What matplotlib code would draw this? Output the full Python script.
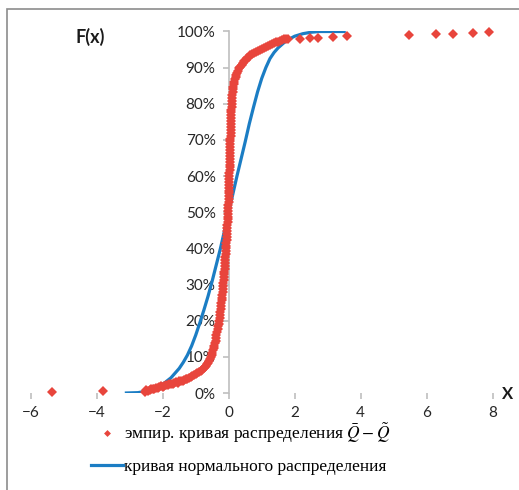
import matplotlib
matplotlib.use('Agg')
import matplotlib.pyplot as plt
from matplotlib.lines import Line2D
from matplotlib.patches import Rectangle
import matplotlib.ticker as mticker

emp_x = [-5.35, -3.82,
         -2.55, -2.50, -2.45, -2.40, -2.35, -2.30, -2.25, -2.20, -2.15, -2.10,
         -2.05, -2.00, -1.95, -1.90, -1.85, -1.80, -1.75, -1.70, -1.65, -1.60,
         -1.55, -1.50, -1.45, -1.40, -1.35, -1.30, -1.25, -1.20, -1.15, -1.10,
         -1.05, -1.00, -0.95, -0.90, -0.85, -0.80, -0.76, -0.72, -0.68, -0.65,
         -0.62, -0.59, -0.56, -0.54, -0.52, -0.50, -0.48, -0.46, -0.44, -0.42,
         -0.40, -0.38, -0.37, -0.35, -0.33, -0.32, -0.30, -0.29, -0.27, -0.26,
         -0.25, -0.24, -0.23, -0.22, -0.21, -0.20, -0.19, -0.18, -0.17, -0.17,
         -0.16, -0.15, -0.14, -0.14, -0.13, -0.12, -0.12, -0.11, -0.10, -0.10,
         -0.09, -0.09, -0.08, -0.07, -0.07, -0.06, -0.06, -0.05, -0.05, -0.04,
         -0.04, -0.03, -0.03, -0.02, -0.02, -0.01, -0.01, -0.01, 0.00, 0.00,
         0.00, 0.01, 0.01, 0.01, 0.01, 0.02, 0.02, 0.02, 0.02, 0.03,
         0.03, 0.03, 0.03, 0.04, 0.04, 0.04, 0.04, 0.05, 0.05, 0.05,
         0.05, 0.06, 0.06, 0.06, 0.06, 0.07, 0.07, 0.07, 0.08, 0.08,
         0.08, 0.09, 0.09, 0.10, 0.10, 0.11, 0.12, 0.13, 0.14, 0.15,
         0.17, 0.19, 0.21, 0.23, 0.26, 0.29, 0.32, 0.35, 0.39, 0.43,
         0.47, 0.51, 0.56, 0.61, 0.66, 0.71, 0.77, 0.83, 0.89, 0.95,
         1.01, 1.07, 1.13, 1.19, 1.25, 1.31, 1.37, 1.43, 1.49, 1.55,
         1.61, 1.67, 1.73, 1.79,
         2.15, 2.45, 2.72, 3.15, 3.58,
         5.45, 6.28, 6.80, 7.40, 7.90]
emp_f = [0.3, 0.6,
         0.4, 0.7, 0.6, 0.9, 1.0, 1.2, 1.1, 1.4, 1.5, 1.6,
         1.8, 1.7, 2.0, 2.2, 2.1, 2.4, 2.6, 2.5, 2.8, 3.0,
         2.9, 3.2, 3.4, 3.3, 3.6, 3.8, 3.9, 4.2, 4.4, 4.6,
         4.9, 5.2, 5.4, 5.8, 6.1, 6.5, 6.8, 7.2, 7.5, 7.9,
         8.3, 8.8, 9.3, 9.9, 10.5, 11.1, 11.8, 12.4, 13.1, 13.8,
         14.5, 15.3, 16.0, 16.8, 17.6, 18.4, 19.2, 20.0, 20.8, 21.6,
         22.4, 23.2, 24.0, 24.8, 25.6, 26.4, 27.2, 28.0, 28.8, 29.6,
         30.4, 31.2, 32.0, 32.8, 33.6, 34.4, 35.2, 36.0, 36.8, 37.6,
         38.4, 39.2, 40.0, 40.8, 41.6, 42.4, 43.2, 44.0, 44.8, 45.6,
         46.4, 47.2, 48.0, 48.8, 49.6, 50.4, 51.2, 52.0, 52.8, 53.6,
         54.4, 55.2, 56.0, 56.8, 57.6, 58.4, 59.2, 60.0, 60.8, 61.6,
         62.4, 63.2, 64.0, 64.8, 65.6, 66.4, 67.2, 68.0, 68.8, 69.6,
         70.4, 71.2, 72.0, 72.8, 73.6, 74.4, 75.2, 76.0, 76.8, 77.6,
         78.4, 79.2, 80.0, 80.8, 81.6, 82.4, 83.2, 84.0, 84.7, 85.4,
         86.1, 86.8, 87.4, 88.0, 88.6, 89.2, 89.8, 90.3, 90.8, 91.3,
         91.8, 92.2, 92.6, 93.0, 93.4, 93.8, 94.1, 94.4, 94.7, 95.0,
         95.2, 95.5, 95.7, 96.0, 96.2, 96.5, 96.7, 97.0, 97.2, 97.4,
         97.6, 97.8, 97.9, 98.0,
         97.9, 98.1, 98.2, 98.5, 98.8,
         99.1, 99.2, 99.4, 99.6, 99.8]

# normal curve
norm_x = [-3.1, -2.75, -2.5, -2.25, -2.0, -1.75, -1.5, -1.375, -1.25, -1.125,
          -1.0, -0.875, -0.75, -0.625, -0.5, -0.25, 0.0, 0.25, 0.5, 0.625,
          0.75, 0.875, 1.0, 1.125, 1.25, 1.375, 1.5, 1.75, 2.0, 2.25,
          2.5, 2.75, 3.0, 3.5]
norm_f = [0.0, 0.1, 0.5, 1.2, 2.4, 4.2, 6.8, 8.5, 10.5, 13.0,
          16.0, 19.4, 23.0, 26.8, 31.0, 40.0, 50.0, 60.0, 69.5, 74.5,
          79.0, 83.3, 87.0, 90.0, 92.5, 94.2, 95.5, 97.5, 98.7, 99.4,
          99.8, 100.0, 100.0, 100.0]

x_ticks = [-6, -4, -2, 0, 2, 4, 6, 8]
y_ticks = [0, 10, 20, 30, 40, 50, 60, 70, 80, 90, 100]

label_emp = 'эмпир. кривая распределения $\\bar{Q}-\\tilde{Q}$'
label_norm = 'кривая нормального распределения'

red = '#E8453C'
blue = '#1B7DC4'
grey = '#BFBFBF'

plt.rcParams['mathtext.fontset'] = 'stix'

fig = plt.figure(figsize=(5.19, 4.90), dpi=100)
ax = fig.add_axes([30.7 / 519, (490 - 393) / 490, 462 / 519, 361.5 / 490])

ax.plot(norm_x, norm_f, color=blue, linewidth=2.3, zorder=2)
ax.plot(emp_x, emp_f, linestyle='none', marker='D', markersize=4.9,
        color=red, markeredgewidth=0, clip_on=False, zorder=3)

ax.set_xlim(-6, 8)
ax.set_ylim(0, 100)
ax.set_xticks(x_ticks)
ax.set_yticks(y_ticks)
ax.yaxis.set_major_formatter(mticker.FuncFormatter(lambda v, p: '%d%%' % v))

ax.spines['top'].set_visible(False)
ax.spines['right'].set_visible(False)
ax.spines['bottom'].set_visible(False)
ax.spines['left'].set_position(('data', 0))
ax.spines['left'].set_color(grey)
ax.spines['left'].set_linewidth(1.2)

ax.tick_params(axis='both', colors=grey, labelcolor='#262626', length=4.5,
               width=1.2, labelsize=11, direction='out')
ax.tick_params(axis='x', pad=5)
ax.tick_params(axis='y', pad=5)
for t in ax.get_xticklabels() + ax.get_yticklabels():
    t.set_fontfamily('Lato')
    t.set_zorder(5)

fig.text(90 / 519, 1 - 37 / 490, 'F(x)', fontsize=13, fontweight='bold',
         family='Lato', ha='center', va='center', color='#1a1a1a')
fig.text(508 / 519, 1 - 394 / 490, 'X', fontsize=12, fontweight='bold',
         family='Lato', ha='center', va='center', color='#1a1a1a')

handles = [Line2D([], [], linestyle='none', marker='D', markersize=3.5,
                  color=red, markeredgewidth=0),
           Line2D([], [], color=blue, linewidth=2.3)]
fig.legend(handles, [label_emp, label_norm], loc='upper left',
           bbox_to_anchor=(91 / 519, 1 - 421 / 490), frameon=False,
           prop={'family': 'Liberation Serif', 'size': 12.5},
           handlelength=1.85, handletextpad=0.05, labelspacing=0.8,
           borderpad=0, borderaxespad=0)

fig.patches.append(Rectangle((7 / 519, -0.1), 1.2, 1 - 9 / 490 + 0.1,
                             transform=fig.transFigure, fill=False,
                             edgecolor='#8c8c8c', linewidth=1.2))

fig.savefig('out.png', dpi=100)
